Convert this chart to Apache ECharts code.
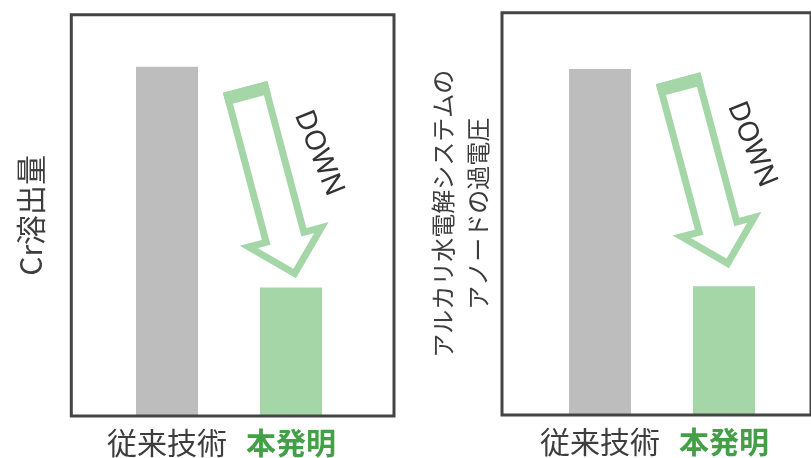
<!DOCTYPE html>
<html>
<head>
<meta charset="utf-8">
<script src="https://cdn.jsdelivr.net/npm/echarts@6/dist/echarts.min.js"></script>
<style>
html,body{margin:0;padding:0;background:#fff;}
#chart{width:811px;height:458px;}
</style>
</head>
<body>
<div id="chart"></div>
<script>
// ---- data ----
const categories = ['従来技術', '本発明'];
const panel1Values = [87, 32];
const panel2Values = [86, 32];
const yNames = ['Cr溶出量', 'アルカリ水電解システムの\nアノードの過電圧'];
const arrowFromValues = [82, 83.7];
const arrowToValues = [34.3, 36.5];
const arrowLabel = 'DOWN';

// ---- styles ----
const GRAY = '#bdbdbd';
const GREEN = '#a5d6a7';
const TEXT = '#3d3d3d';
const BOLD_GREEN = '#43a047';
const FONT = '"Noto Sans CJK JP", "Noto Sans", sans-serif';

const chart = echarts.init(document.getElementById('chart'), null, {renderer: 'canvas'});

function frameGrid(left, top, width, height) {
  return {left, top, width, height, show: true, borderColor: '#444', borderWidth: 3,
    backgroundColor: 'transparent', z: 5};
}
function barXAxis(gridIndex) {
  return {
    gridIndex, type: 'category', data: categories,
    axisLine: {show: false}, axisTick: {show: false}, splitLine: {show: false},
    axisLabel: {
      margin: 12,
      formatter: (v, i) => i === 0 ? '{a|' + v + '}' : '{b|' + v + '}',
      rich: {
        a: {color: TEXT, fontSize: 30, fontFamily: FONT},
        b: {color: BOLD_GREEN, fontSize: 30, fontWeight: 'bold', fontFamily: FONT}
      }
    }
  };
}
function nameYAxis(gridIndex, name, gap, size, lh) {
  return {
    gridIndex, type: 'value', name, nameLocation: 'middle', nameGap: gap,
    nameTextStyle: {color: TEXT, fontSize: size, lineHeight: lh, fontFamily: FONT},
    axisLine: {show: false}, axisTick: {show: false}, axisLabel: {show: false}, splitLine: {show: false}
  };
}
function barSeries(axisIndex, values) {
  return {
    type: 'bar', xAxisIndex: axisIndex, yAxisIndex: axisIndex, barWidth: 62,
    data: values.map((v, i) => ({value: v, itemStyle: {color: i === 0 ? GRAY : GREEN}})),
    silent: true, animation: false
  };
}

chart.setOption({
  animation: false,
  backgroundColor: '#fff',
  grid: [
    frameGrid(71.3, 14.7, 322.7, 401.3),
    {left: 105, top: 14.7, width: 248, height: 401.3},
    frameGrid(502, 12.7, 322.7, 402.3),
    {left: 538, top: 12.7, width: 248, height: 402.3}
  ],
  xAxis: [
    {gridIndex: 0, type: 'value', show: false},
    barXAxis(1),
    {gridIndex: 2, type: 'value', show: false},
    barXAxis(3)
  ],
  yAxis: [
    nameYAxis(0, yNames[0], 25, 30, 32),
    {gridIndex: 1, type: 'value', min: 0, max: 100, show: false},
    nameYAxis(2, yNames[1], 7, 24, 35),
    {gridIndex: 3, type: 'value', min: 0, max: 100, show: false}
  ],
  series: [barSeries(1, panel1Values), barSeries(3, panel2Values)]
});

// ---- arrows (anchored to the bar grids through convertToPixel) ----
function arrowElements(gridIndex, fromVal, toVal) {
  const p0 = chart.convertToPixel({gridIndex}, [0, fromVal]);
  const p1 = chart.convertToPixel({gridIndex}, [1, toVal]);
  const tailT = 0.63, tipT = 1.04;
  const dxc = p1[0] - p0[0];
  const tail = [p0[0] + tailT * dxc, p0[1]];
  const tip = [p0[0] + tipT * dxc, p1[1]];
  const dx = tip[0] - tail[0], dy = tip[1] - tail[1];
  const L = Math.hypot(dx, dy);
  const d = [dx / L, dy / L];
  const n = [d[1], -d[0]];
  const P = (v, u) => [tail[0] + u * d[0] + v * n[0], tail[1] + u * d[1] + v * n[1]];
  const sw = 7, hw = 23, hh = 46, hl = 46;
  const h = sw / 2;
  const wing = hh - h * Math.SQRT2 - h;
  const outline = [
    P(-(hw - h), h), P(hw - h, h), P(hw - h, L - hl + h), P(wing, L - hl + h),
    P(0, L - h * Math.SQRT2), P(-wing, L - hl + h), P(-(hw - h), L - hl + h)
  ];
  const band = [P(-hw, 0), P(hw, 0), P(hw, 13), P(-hw, 13)];
  const tp = P(54, 83);
  return [
    {type: 'polygon', shape: {points: outline},
      style: {fill: 'none', stroke: GREEN, lineWidth: sw, lineJoin: 'miter', miterLimit: 10}, silent: true},
    {type: 'polygon', shape: {points: band}, style: {fill: GREEN}, silent: true},
    {type: 'text', x: tp[0], y: tp[1], rotation: -68 * Math.PI / 180, silent: true,
      style: {text: arrowLabel, fontSize: 28, fontFamily: '"Noto Sans", sans-serif', fill: '#333',
        align: 'center', verticalAlign: 'middle'}}
  ];
}

chart.setOption({
  graphic: [
    ...arrowElements(1, arrowFromValues[0], arrowToValues[0]),
    ...arrowElements(3, arrowFromValues[1], arrowToValues[1])
  ]
});
</script>
</body>
</html>
